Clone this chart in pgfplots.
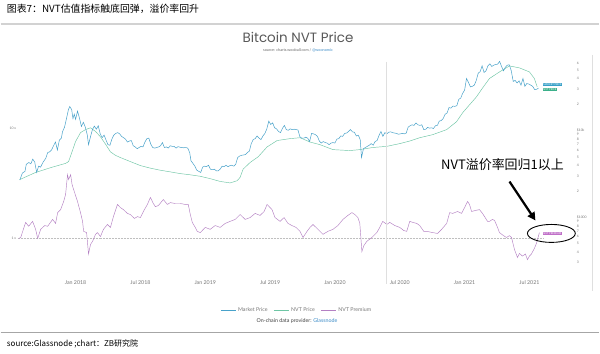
\documentclass[border=0pt]{standalone}
\usepackage{pgfplots}
\usepackage{pgfplotstable}
\pgfplotsset{compat=1.18}
\usepackage{fontspec}
\setmainfont{Lato}
\newfontfamily\cjk{Noto Sans CJK SC}
\newfontfamily\titlefont{Poppins}
\usetikzlibrary{arrows.meta}
\definecolor{mkt}{RGB}{72,162,202}
\definecolor{nvt}{RGB}{110,198,165}
\definecolor{prem}{RGB}{180,128,195}
\definecolor{mktbox}{RGB}{55,160,200}
\definecolor{nvtbox}{RGB}{60,176,138}
\definecolor{prembox}{RGB}{192,112,200}
\definecolor{txtgray}{RGB}{120,120,120}
\definecolor{linkblue}{RGB}{60,140,200}

\pgfplotstableread[row sep=\\]{
x y\\
2017.57 2700\\ 2017.59 3250\\ 2017.61 3400\\ 2017.62 4100\\ 2017.64 4300\\ 2017.655 4150\\
2017.67 4700\\ 2017.685 4350\\ 2017.70 3300\\ 2017.715 3900\\ 2017.73 3800\\ 2017.75 4350\\
2017.77 4800\\ 2017.785 5600\\ 2017.80 5700\\ 2017.815 6000\\ 2017.83 6700\\ 2017.845 7400\\
2017.86 6000\\ 2017.875 7800\\ 2017.89 8200\\ 2017.90 9800\\ 2017.915 11000\\ 2017.93 13800\\
2017.945 17500\\ 2017.955 19000\\ 2017.97 17500\\ 2017.98 13800\\ 2017.99 15500\\ 2018.00 13500\\
2018.015 16800\\ 2018.03 14000\\ 2018.045 11200\\ 2018.06 12500\\ 2018.075 11000\\ 2018.09 9000\\
2018.10 6900\\ 2018.115 8500\\ 2018.13 10300\\ 2018.145 11300\\ 2018.16 10400\\ 2018.175 11400\\
2018.19 9200\\ 2018.205 8300\\ 2018.22 8900\\ 2018.235 7800\\ 2018.25 6900\\ 2018.265 6800\\
2018.28 8000\\ 2018.295 8900\\ 2018.31 9300\\ 2018.325 9500\\ 2018.34 9200\\ 2018.355 8600\\
2018.37 8300\\ 2018.385 8000\\ 2018.40 7400\\ 2018.415 7600\\ 2018.43 7700\\ 2018.445 6700\\
2018.46 6500\\ 2018.475 6200\\ 2018.49 6400\\ 2018.505 6600\\ 2018.52 6500\\ 2018.535 7400\\
2018.55 8100\\ 2018.565 8200\\ 2018.58 7000\\ 2018.595 6400\\ 2018.61 6300\\ 2018.625 6400\\
2018.64 6500\\ 2018.655 6700\\ 2018.67 7300\\ 2018.685 6400\\ 2018.70 6500\\ 2018.715 6300\\
2018.73 6700\\ 2018.745 6600\\ 2018.76 6600\\ 2018.775 6300\\ 2018.79 6550\\ 2018.805 6450\\
2018.82 6400\\ 2018.835 6350\\ 2018.85 6400\\ 2018.865 6300\\ 2018.88 5600\\ 2018.89 4500\\
2018.905 4200\\ 2018.92 3900\\ 2018.935 3500\\ 2018.95 3400\\ 2018.965 3300\\ 2018.98 3800\\
2018.995 3900\\ 2019.01 3850\\ 2019.025 4000\\ 2019.04 3600\\ 2019.055 3550\\ 2019.07 3600\\
2019.085 3450\\ 2019.10 3450\\ 2019.115 3600\\ 2019.13 3900\\ 2019.145 3850\\ 2019.16 4000\\
2019.175 3850\\ 2019.19 3950\\ 2019.205 4000\\ 2019.22 3900\\ 2019.235 4100\\ 2019.25 4900\\
2019.265 5100\\ 2019.28 5200\\ 2019.295 5250\\ 2019.31 5300\\ 2019.325 5600\\ 2019.34 5800\\
2019.355 7100\\ 2019.37 7900\\ 2019.385 8100\\ 2019.40 8700\\ 2019.415 8200\\ 2019.43 7900\\
2019.445 8700\\ 2019.46 9300\\ 2019.475 10500\\ 2019.49 12900\\ 2019.505 11800\\ 2019.52 12300\\
2019.535 10800\\ 2019.55 10500\\ 2019.565 9800\\ 2019.58 9500\\ 2019.595 10600\\ 2019.61 11500\\
2019.625 10300\\ 2019.64 10100\\ 2019.655 10500\\ 2019.67 10300\\ 2019.685 10400\\ 2019.70 10300\\
2019.715 10200\\ 2019.73 8500\\ 2019.745 8200\\ 2019.76 8200\\ 2019.775 8400\\ 2019.79 8200\\
2019.805 7500\\ 2019.82 9300\\ 2019.835 9200\\ 2019.85 9000\\ 2019.865 8600\\ 2019.88 7600\\
2019.895 7200\\ 2019.91 7500\\ 2019.925 7300\\ 2019.94 7200\\ 2019.955 6900\\ 2019.97 7200\\
2019.985 7300\\ 2020.00 7200\\ 2020.015 8000\\ 2020.03 8100\\ 2020.045 8700\\ 2020.06 8600\\
2020.075 9300\\ 2020.09 9400\\ 2020.105 9800\\ 2020.12 10300\\ 2020.135 9700\\ 2020.15 9600\\
2020.165 8700\\ 2020.18 8900\\ 2020.195 7900\\ 2020.205 4900\\ 2020.22 6200\\ 2020.235 6400\\
2020.25 6600\\ 2020.265 6800\\ 2020.28 7100\\ 2020.295 6800\\ 2020.31 7500\\ 2020.325 7700\\
2020.34 8800\\ 2020.355 9800\\ 2020.37 8600\\ 2020.385 9500\\ 2020.40 9200\\ 2020.415 9600\\
2020.43 9700\\ 2020.445 9500\\ 2020.46 9400\\ 2020.475 9300\\ 2020.49 9100\\ 2020.505 9200\\
2020.52 9300\\ 2020.535 9200\\ 2020.55 9400\\ 2020.565 11000\\ 2020.58 11400\\ 2020.595 11700\\
2020.61 11500\\ 2020.625 12300\\ 2020.64 11700\\ 2020.655 11500\\ 2020.67 11700\\ 2020.685 10300\\
2020.70 10400\\ 2020.715 10900\\ 2020.73 10700\\ 2020.745 10800\\ 2020.76 10600\\ 2020.775 11400\\
2020.79 11500\\ 2020.805 12900\\ 2020.82 13100\\ 2020.835 13800\\ 2020.85 15500\\ 2020.865 16000\\
2020.88 18500\\ 2020.895 18200\\ 2020.91 19200\\ 2020.925 19100\\ 2020.94 19400\\ 2020.955 23000\\
2020.97 23700\\ 2020.985 27000\\ 2021.00 29300\\ 2021.015 40000\\ 2021.03 36000\\ 2021.045 32000\\
2021.06 32500\\ 2021.075 33500\\ 2021.09 38000\\ 2021.105 46000\\ 2021.12 48000\\ 2021.135 56000\\
2021.15 47000\\ 2021.165 49000\\ 2021.18 56000\\ 2021.195 59000\\ 2021.21 55000\\ 2021.225 57000\\
2021.24 58000\\ 2021.255 58500\\ 2021.27 63000\\ 2021.285 55000\\ 2021.30 49000\\ 2021.315 54000\\
2021.33 57000\\ 2021.345 57500\\ 2021.36 49000\\ 2021.375 37000\\ 2021.39 38000\\ 2021.405 35500\\
2021.42 37500\\ 2021.435 33500\\ 2021.45 40000\\ 2021.465 32500\\ 2021.48 35000\\ 2021.495 34500\\
2021.51 33500\\ 2021.525 32500\\ 2021.54 29800\\ 2021.555 30000\\ 2021.57 31000\\
}\mktdata

\pgfplotstableread[row sep=\\]{
x y\\
2017.569 2730\\ 2017.692 3300\\ 2017.808 3750\\ 2017.923 4200\\ 2017.946 4400\\ 2017.969 5500\\
2018.000 7500\\ 2018.038 9500\\ 2018.077 10300\\ 2018.115 10800\\ 2018.154 9800\\ 2018.192 8500\\
2018.231 7000\\ 2018.269 5700\\ 2018.308 5200\\ 2018.346 4900\\ 2018.423 4400\\ 2018.500 3960\\
2018.577 3700\\ 2018.654 3500\\ 2018.731 3350\\ 2018.808 3200\\ 2018.885 3100\\ 2018.962 2980\\
2019.038 2800\\ 2019.115 2600\\ 2019.192 2500\\ 2019.246 2650\\ 2019.269 2900\\ 2019.292 3600\\
2019.346 4300\\ 2019.408 5000\\ 2019.477 6500\\ 2019.554 7700\\ 2019.654 8100\\ 2019.731 8300\\
2019.808 7400\\ 2019.885 6900\\ 2019.985 6050\\ 2020.115 5900\\ 2020.192 6050\\ 2020.292 6400\\
2020.400 6600\\ 2020.500 7100\\ 2020.577 7600\\ 2020.654 8300\\ 2020.754 9000\\ 2020.862 10300\\
2020.938 12700\\ 2020.985 16100\\ 2021.038 19900\\ 2021.092 24600\\ 2021.138 31000\\ 2021.192 40000\\
2021.269 47600\\ 2021.346 55800\\ 2021.423 53000\\ 2021.500 47600\\ 2021.538 40000\\ 2021.560 32000\\
}\nvtdata

\pgfplotstableread[row sep=\\]{
x y\\
2017.562 1.00\\ 2017.577 1.02\\ 2017.615 1.40\\ 2017.638 1.29\\ 2017.669 1.43\\ 2017.692 1.21\\
2017.708 1.00\\ 2017.731 1.21\\ 2017.762 1.31\\ 2017.785 1.29\\ 2017.823 1.49\\ 2017.846 1.37\\
2017.862 1.72\\ 2017.885 1.83\\ 2017.908 2.17\\ 2017.923 2.51\\ 2017.938 3.81\\ 2017.946 3.44\\
2017.962 3.81\\ 2017.973 3.10\\ 2017.985 2.79\\ 2018.000 2.46\\ 2018.015 2.17\\ 2018.038 1.72\\
2018.054 1.43\\ 2018.062 1.16\\ 2018.085 1.13\\ 2018.100 0.72\\ 2018.115 0.88\\ 2018.131 0.94\\
2018.154 1.09\\ 2018.169 1.13\\ 2018.192 1.04\\ 2018.215 1.21\\ 2018.246 1.34\\ 2018.269 1.26\\
2018.292 1.58\\ 2018.323 2.04\\ 2018.346 1.91\\ 2018.369 1.83\\ 2018.400 1.69\\ 2018.423 1.65\\
2018.454 1.52\\ 2018.477 1.58\\ 2018.500 1.55\\ 2018.523 1.76\\ 2018.554 2.04\\ 2018.577 2.36\\
2018.600 2.08\\ 2018.615 1.95\\ 2018.638 1.99\\ 2018.677 2.26\\ 2018.708 2.04\\ 2018.731 2.12\\
2018.769 2.08\\ 2018.808 2.08\\ 2018.846 2.04\\ 2018.869 2.04\\ 2018.885 1.65\\ 2018.900 1.40\\
2018.923 1.26\\ 2018.938 1.16\\ 2018.962 1.13\\ 2019.000 1.26\\ 2019.038 1.21\\ 2019.077 1.31\\
2019.115 1.26\\ 2019.154 1.37\\ 2019.192 1.43\\ 2019.231 1.49\\ 2019.269 1.65\\ 2019.308 1.49\\
2019.346 1.55\\ 2019.385 1.69\\ 2019.423 1.62\\ 2019.454 1.76\\ 2019.477 2.04\\ 2019.515 1.83\\
2019.538 1.55\\ 2019.577 1.43\\ 2019.608 1.55\\ 2019.638 1.37\\ 2019.669 1.31\\ 2019.700 1.26\\
2019.731 1.16\\ 2019.754 1.02\\ 2019.785 1.16\\ 2019.808 1.26\\ 2019.831 1.34\\ 2019.869 1.21\\
2019.908 1.09\\ 2019.946 1.16\\ 2019.985 1.21\\ 2020.023 1.31\\ 2020.062 1.49\\ 2020.100 1.62\\
2020.131 1.72\\ 2020.154 1.65\\ 2020.177 1.55\\ 2020.192 1.37\\ 2020.208 0.76\\ 2020.223 0.86\\
2020.246 0.94\\ 2020.285 1.02\\ 2020.323 1.13\\ 2020.346 1.26\\ 2020.369 1.43\\ 2020.400 1.34\\
2020.423 1.40\\ 2020.462 1.31\\ 2020.500 1.26\\ 2020.531 1.18\\ 2020.554 1.16\\ 2020.577 1.43\\
2020.600 1.40\\ 2020.631 1.37\\ 2020.654 1.31\\ 2020.685 1.16\\ 2020.708 1.16\\ 2020.754 1.13\\
2020.792 1.11\\ 2020.823 1.21\\ 2020.862 1.37\\ 2020.885 1.72\\ 2020.908 1.69\\ 2020.946 1.76\\
2020.977 1.69\\ 2021.000 1.91\\ 2021.023 2.17\\ 2021.038 2.04\\ 2021.054 1.76\\ 2021.085 1.80\\
2021.115 1.83\\ 2021.138 1.69\\ 2021.154 1.58\\ 2021.177 1.43\\ 2021.192 1.43\\ 2021.215 1.49\\
2021.231 1.46\\ 2021.254 1.26\\ 2021.269 1.13\\ 2021.300 1.06\\ 2021.323 1.02\\ 2021.346 1.06\\
2021.362 1.02\\ 2021.385 0.79\\ 2021.408 0.67\\ 2021.423 0.73\\ 2021.446 0.69\\ 2021.469 0.72\\
2021.485 0.64\\ 2021.500 0.69\\ 2021.515 0.72\\ 2021.538 0.81\\ 2021.554 0.90\\ 2021.577 1.13\\
}\premdata

\begin{document}
\begin{tikzpicture}[x=1pt,y=1pt]
\fill[white] (0,0) rectangle (600,354);
% header
\node[anchor=west, inner sep=0pt, font=\cjk\fontsize{9.9}{10}\selectfont] at (6,345) {图表7：NVT估值指标触底回弹，溢价率回升};
\draw[gray!35, line width=1.5pt] (0,330) -- (600,330);
\node[font=\titlefont\fontsize{13.5}{14}\selectfont, text=black!65] at (298,316) {Bitcoin NVT Price};
\node[font=\fontsize{3.8}{4}\selectfont, text=black!60] at (298,303.5) {source: charts.woobull.com / \textcolor{linkblue}{@woonomic}};

% price axis (right log scale)
\begin{axis}[
  at={(17pt,82pt)}, anchor=south west, scale only axis,
  width=528pt, height=217pt,
  xmin=2017.5538, xmax=2021.6154,
  ymode=log, ymin=239.1, ymax=74900,
  axis line style={draw=none}, tick style={draw=none},
  xtick={2018,2018.5,2019,2019.5,2020,2020.5,2021,2021.5},
  xticklabels={Jan 2018,Jul 2018,Jan 2019,Jul 2019,Jan 2020,Jul 2020,Jan 2021,Jul 2021},
  xticklabel style={font=\fontsize{5.3}{6}\selectfont, text=txtgray, yshift=-6pt},
  ytick={300,400,500,600,700,800,900,1000,2000,3000,4000,5000,6000,7000,8000,9000,10000,20000,30000,40000,50000,60000},
  yticklabels={3,4,5,6,7,8,9,\$1000,2,3,4,5,6,7,8,9,\$10k,2,3,4,5,6},
  yticklabel pos=right,
  yticklabel style={font=\fontsize{3.4}{4}\selectfont, text=txtgray, xshift=29pt},
  /pgf/number format/assume math mode=true,
]
\addplot[nvt, line width=0.45pt] table[x=x,y=y] {\nvtdata};
\addplot[mkt, line width=0.5pt] table[x=x,y=y] {\mktdata};
\end{axis}

% premium axis (left log scale)
\begin{axis}[
  at={(17pt,82pt)}, anchor=south west, scale only axis,
  width=528pt, height=217pt,
  xmin=2017.5538, xmax=2021.6154,
  ymode=log, ymin=0.5012, ymax=47.1,
  axis line style={draw=none}, tick style={draw=none},
  xtick=\empty,
  ytick={1,10}, yticklabels={1 x,10 x},
  yticklabel style={font=\fontsize{3.4}{4}\selectfont, text=txtgray, xshift=2pt},
  /pgf/number format/assume math mode=true,
  legend style={at={(0.53,-0.18)}, anchor=center, draw=none, fill=none,
    font=\fontsize{5.3}{6}\selectfont, text=txtgray, legend columns=-1,
    /tikz/every even column/.append style={column sep=4pt}},
  legend image code/.code={\draw[#1, line width=0.6pt] (0pt,0pt) -- (15pt,0pt);},
]
\addplot[gray!50, densely dotted, line width=0.5pt, forget plot] coordinates {(2017.5538,1) (2021.6154,1)};
\addlegendimage{mkt}\addlegendentry{Market Price}
\addlegendimage{nvt}\addlegendentry{NVT Price}
\addplot[prem, line width=0.45pt] table[x=x,y=y] {\premdata};
\addlegendentry{NVT Premium}
\end{axis}

% halving marker and right border
\draw[gray!25, line width=0.5pt] (386,292) -- (386,69);
\draw[gray!25, line width=0.6pt] (593,299) -- (593,62);

% last-value tags
\node[anchor=west, fill=mktbox, text=white, font=\fontsize{2.6}{3}\selectfont, inner sep=0.7pt] at (543,269) {MARKET PRICE};
\node[anchor=west, fill=nvtbox, text=white, font=\fontsize{2.6}{3}\selectfont, inner sep=0.7pt] at (543,264) {NVT PRICE};
\node[anchor=west, fill=prembox, text=white, font=\fontsize{2.6}{3}\selectfont, inner sep=0.7pt] at (543,120) {NVT PREMIUM};

% annotation
\node[font=\cjk\fontsize{13}{14}\selectfont] at (503,189) {NVT溢价率回归1以上};
\draw[line width=2.2pt, -{Triangle[length=8pt,width=8pt]}] (510,172) -- (536,133);
\draw[line width=0.9pt] (552,120) ellipse (24 and 9);

% footer
\node[font=\fontsize{5.3}{6}\selectfont, text=black!75] at (297,32) {On-chain data provider: \textcolor{linkblue}{Glassnode}};
\draw[gray!70, line width=0.8pt] (0,21) -- (600,21);
\node[anchor=west, inner sep=0pt, font=\cjk\fontsize{8}{9}\selectfont] at (6,9) {source:Glassnode ;chart：ZB研究院};
\end{tikzpicture}
\end{document}
